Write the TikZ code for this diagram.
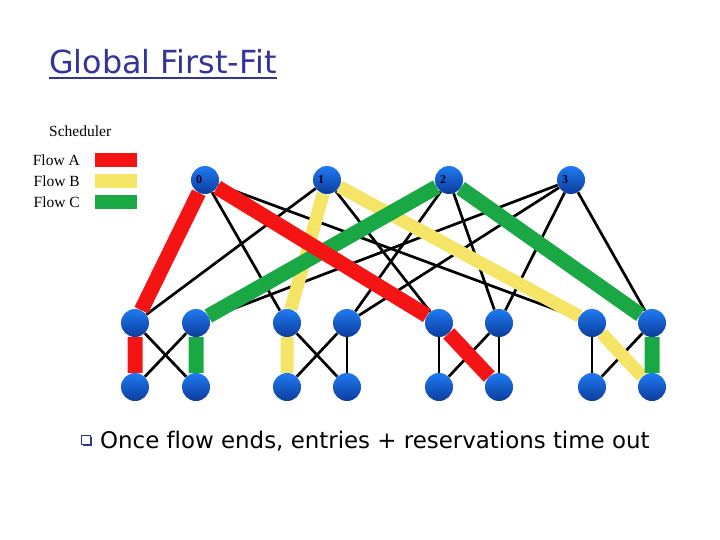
\documentclass[tikz,border=0pt]{standalone}
\usepackage{tikz}
\usepackage{xcolor}
\usepackage{fontspec}
\setmainfont{Liberation Serif}
\newfontfamily\slidefont{DejaVu Sans}[Ligatures=NoCommon]
\usetikzlibrary{positioning}
\usetikzlibrary{backgrounds}
\usetikzlibrary{shadows}
\definecolor{titleblue}{HTML}{333399}
\definecolor{flowred}{HTML}{F41414}
\definecolor{flowyellow}{HTML}{F5E466}
\definecolor{flowgreen}{HTML}{1AA845}
\definecolor{swtop}{HTML}{1F7BF2}
\definecolor{swmid}{HTML}{1A6BE0}
\definecolor{swbot}{HTML}{0C3C9C}
\tikzset{
  % A switch of the fat tree
  switch/.style={
    circle, inner sep=0pt, minimum size=28pt,
    top color=swtop, middle color=swmid, bottom color=swbot},
  % A core switch with its number on the left
  coresw/.style={
    switch, label={[font=\bfseries\fontsize{12}{12}\selectfont, text=black!85!blue, xshift=-6pt]center:#1}},
  % Links
  link/.style={draw=black, line width=2.7pt},
  flow/.style={line width=15pt, draw=#1},
  % Legend
  key/.style={draw=none, fill=#1, minimum width=42pt, minimum height=14pt, inner sep=0pt},
  keytext/.style={font=\fontsize{15.5}{17}\selectfont, inner sep=0pt},
}

\begin{document}
\begin{tikzpicture}[x=1pt, y=-1pt]
\useasboundingbox (0,0) rectangle (720,540);

\node[anchor=base west, inner sep=0pt, text=titleblue,
      font=\slidefont\fontsize{31.8}{36}\selectfont] (title) at (49,74) {Global First-Fit};
\draw[titleblue, line width=1.6pt] ([yshift=-4pt]title.base west) -- ([yshift=-4pt]title.base east);

% legend
\node[keytext, anchor=west] (sched) at (49,131) {Scheduler};
\node[keytext, anchor=east] (flowa) at (80,160) {Flow A};
\node[keytext, anchor=east] (flowb) at (80,181) {Flow B};
\node[keytext, anchor=east] (flowc) at (80,202) {Flow C};
\node[key=flowred, right=15pt of flowa] (keya) {};
\node[key=flowyellow, right=15pt of flowb] (keyb) {};
\node[key=flowgreen, right=15pt of flowc] (keyc) {};

% core
\node[coresw=0] (core0) at (205,180) {};
\node[coresw=1] (core1) at (327,180) {};
\node[coresw=2] (core2) at (449,180) {};
\node[coresw=3] (core3) at (571,180) {};

% aggregation
\node[switch] (agg1) at (135,323) {};
\node[switch] (agg2) at (196,323) {};
\node[switch] (agg3) at (287,323) {};
\node[switch] (agg4) at (347,323) {};
\node[switch] (agg5) at (439,323) {};
\node[switch] (agg6) at (499,323) {};
\node[switch] (agg7) at (592,323) {};
\node[switch] (agg8) at (652,323) {};

% edge
\node[switch] (tor1) at (135,387) {};
\node[switch] (tor2) at (196,387) {};
\node[switch] (tor3) at (287,387) {};
\node[switch] (tor4) at (347,387) {};
\node[switch] (tor5) at (439,387) {};
\node[switch] (tor6) at (499,387) {};
\node[switch] (tor7) at (592,387) {};
\node[switch] (tor8) at (652,387) {};

\begin{scope}[on background layer]
  % core to aggregation
  \draw[link] (core0) -- (agg3);
  \draw[link] (core0) -- (agg7);
  \draw[link] (core1) -- (agg1);
  \draw[link] (core1) -- (agg5);
  \draw[link] (core2) -- (agg4);
  \draw[link] (core2) -- (agg6);
  \draw[link] (core3) -- (agg2);
  \draw[link] (core3) -- (agg4);
  \draw[link] (core3) -- (agg6);
  \draw[link] (core3) -- (agg8);
  % aggregation to edge
  \draw[link] (agg1) -- (tor2);
  \draw[link] (agg2) -- (tor1);
  \draw[link] (agg3) -- (tor4);
  \draw[link] (agg4) -- (tor3);
  \draw[link] (agg4) -- (tor4);
  \draw[link] (agg5) -- (tor5);
  \draw[link] (agg6) -- (tor5);
  \draw[link] (agg6) -- (tor6);
  \draw[link] (agg7) -- (tor7);
  \draw[link] (agg8) -- (tor7);
  % flows
  \draw[flow=flowyellow, line width=13pt] (tor3) -- (agg3) -- (core1) -- (agg7) -- (tor8);
  \draw[flow=flowgreen] (tor2) -- (agg2) -- (core2) -- (agg8) -- (tor8);
  \draw[flow=flowred] (tor1) -- (agg1) -- (core0) -- (agg5) -- (tor6);
\end{scope}

\node[draw=titleblue, fill=white, line width=1pt, minimum size=9pt, inner sep=0pt,
      drop shadow={shadow xshift=1.2pt, shadow yshift=-1.2pt, fill=titleblue, opacity=1}]
      (bullet) at (86,440) {};
\node[anchor=base west, inner sep=0pt, font=\slidefont\fontsize{22.9}{26}\selectfont]
      (note) at (100,448) {Once flow ends, entries + reservations time out};

\end{tikzpicture}
\end{document}
